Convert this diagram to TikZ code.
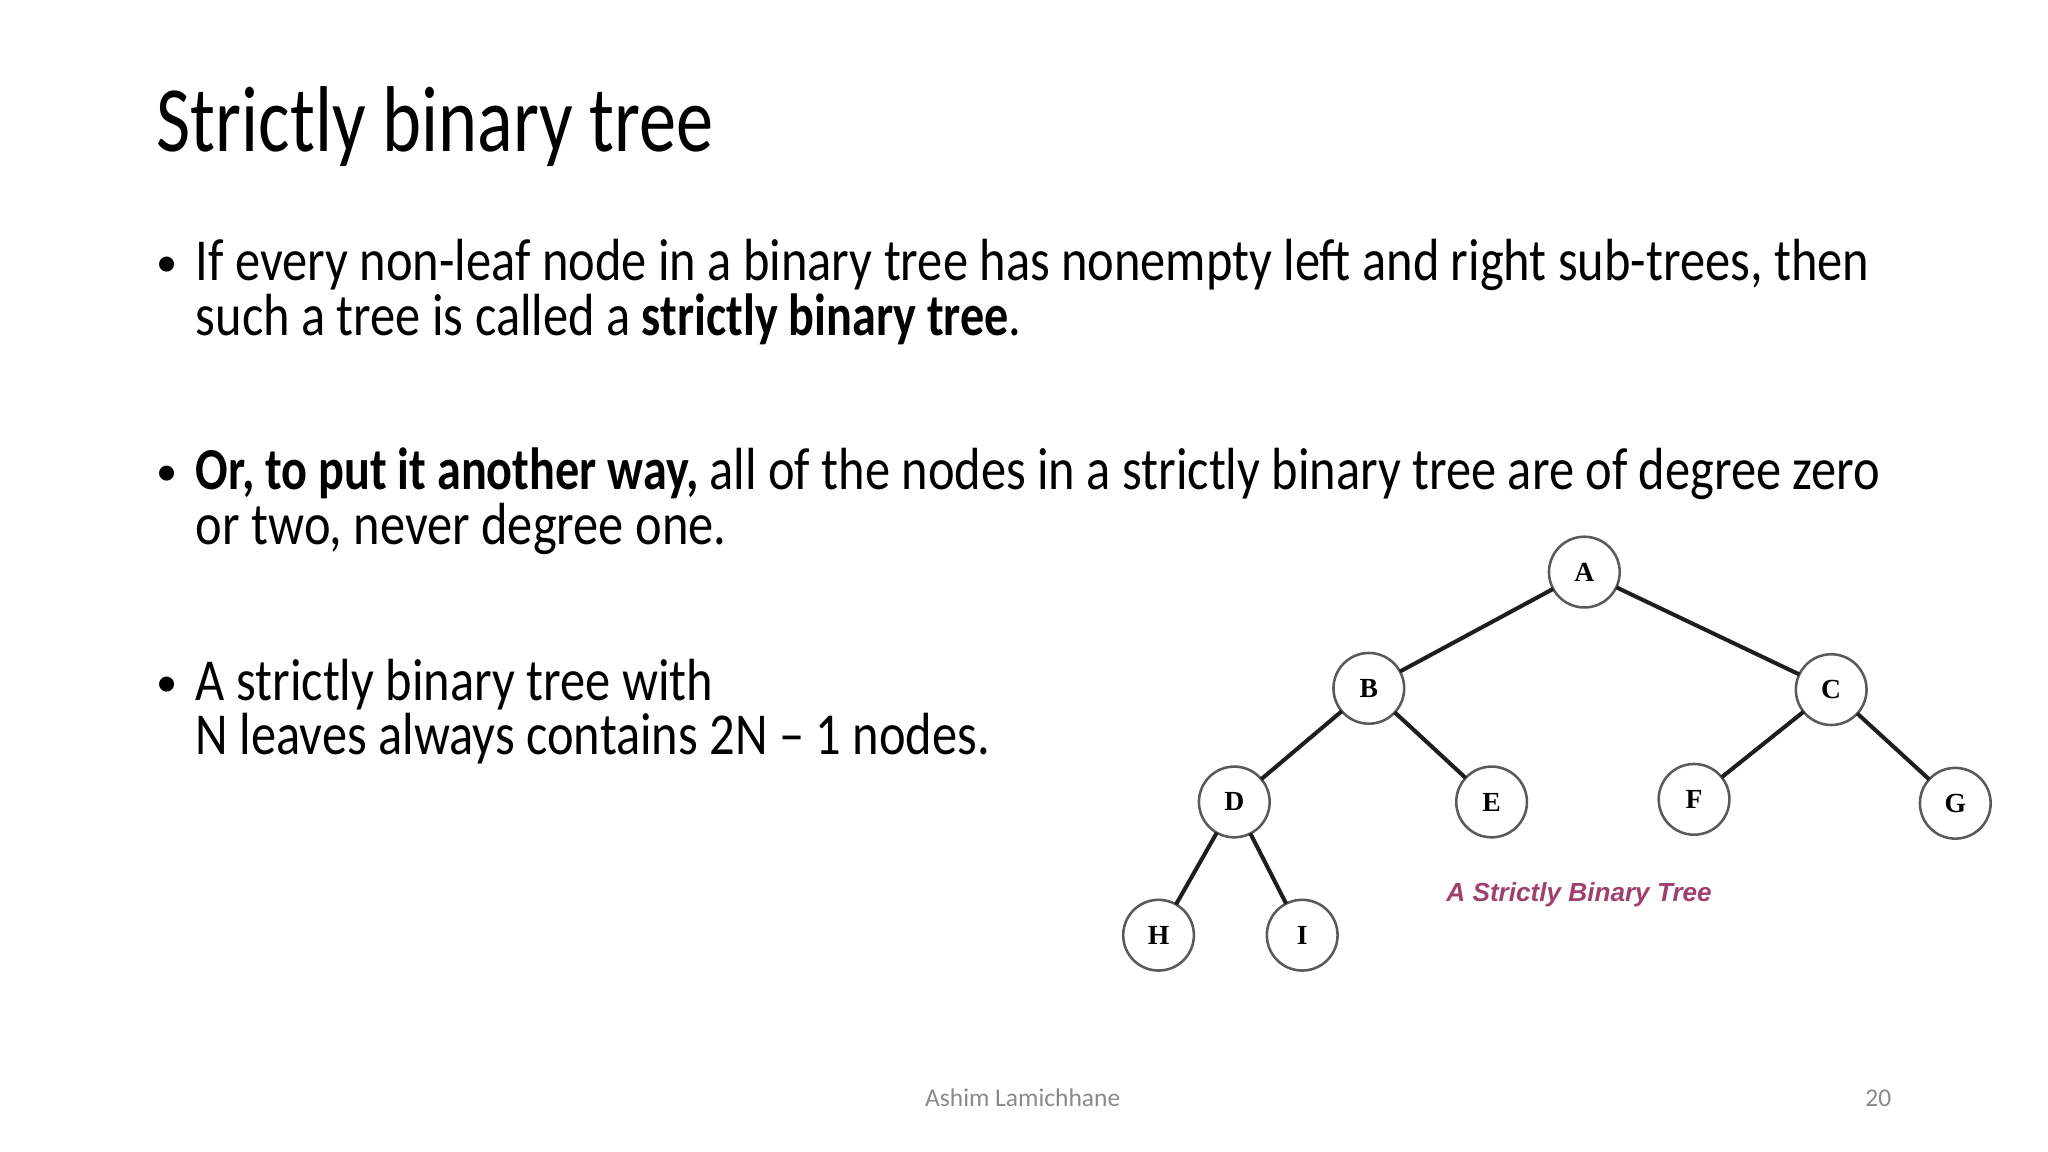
\documentclass[tikz,border=0pt]{standalone}
\usepackage{fontspec}
\setmainfont{Carlito}[FakeStretch=0.848, BoldFeatures={FakeStretch=0.81}]
\newfontfamily\titlefont{Carlito}[FakeStretch=0.795]
\newfontfamily\footfont{Carlito}
\newfontfamily\treefont{Liberation Serif}
\newfontfamily\capfont{Liberation Sans}
\usepackage{tikz}
\usetikzlibrary{positioning}
\definecolor{footgray}{HTML}{8a8a8a}
\definecolor{ringgray}{HTML}{5a5a5a}
\definecolor{edgecolor}{HTML}{1e1e1e}
\definecolor{capcolor}{HTML}{A0406E}

\begin{document}
\begin{tikzpicture}[x=0.0216cm, y=-0.0216cm, every node/.style={inner sep=0pt, outer sep=0pt}]
\tikzstyle{ttl}=[anchor=base west, font=\titlefont\fontsize{44}{44}\selectfont]
\tikzstyle{txt}=[anchor=base west, align=left, font=\fontsize{28}{25.7}\selectfont]
\tikzstyle{dot}=[anchor=base west, font=\footfont\fontsize{20}{20}\selectfont]
\tikzstyle{foot}=[anchor=base, font=\footfont\fontsize{12}{12}\selectfont, text=footgray]
\tikzstyle{nd}=[circle, draw=ringgray, line width=1.2pt, fill=white, minimum size=1.17cm, font=\treefont\bfseries\fontsize{13}{13}\selectfont]
\tikzstyle{ed}=[line width=1.9pt, color=edgecolor]

\useasboundingbox[fill=white] (0,0) rectangle (1568,882);

% title and bullets
\node[ttl](title) at (120,116){Strictly binary tree};
\node[dot](b1) at (120,212){\textbullet};
\node[txt](t1) at (150,215){If every non-leaf node in a binary tree has nonempty left and right sub-trees, then};
\node[txt](t1b) at (150,257){such a tree is called a \textbf{strictly binary tree}.};
\node[dot](b2) at (120,372){\textbullet};
\node[txt](t2) at (150,375){\textbf{Or, to put it another way,} all of the nodes in a strictly binary tree are of degree zero};
\node[txt](t2b) at (150,417){or two, never degree one.};
\node[dot](b3) at (120,533){\textbullet};
\node[txt](t3) at (150,536){A strictly binary tree with};
\node[txt](t3b) at (150,578){N leaves always contains 2N -- 1 nodes.};

% tree
\node[nd](A) at (1213,438){A};
\node[nd](B) at (1048,527){B};
\node[nd](C) at (1402,528){C};
\node[nd](D) at (945,614){D};
\node[nd](E) at (1142,614){E};
\node[nd](F) at (1297,612){F};
\node[nd](G) at (1497,615){G};
\node[nd](H) at (887,716){H};
\node[nd](I) at (997,716){I};

\draw[ed](A)--(B); \draw[ed](A)--(C); \draw[ed](B)--(D); \draw[ed](B)--(E);
\draw[ed](C)--(F); \draw[ed](C)--(G); \draw[ed](D)--(H); \draw[ed](D)--(I);

\node[font=\capfont\bfseries\itshape\fontsize{12.3}{12.3}\selectfont, text=capcolor](cap) at (1209,685){A Strictly Binary Tree};

% footer
\node[foot](author) at (783,847){Ashim Lamichhane};
\node[foot, anchor=base east](page) at (1448,847){20};
\end{tikzpicture}
\end{document}
